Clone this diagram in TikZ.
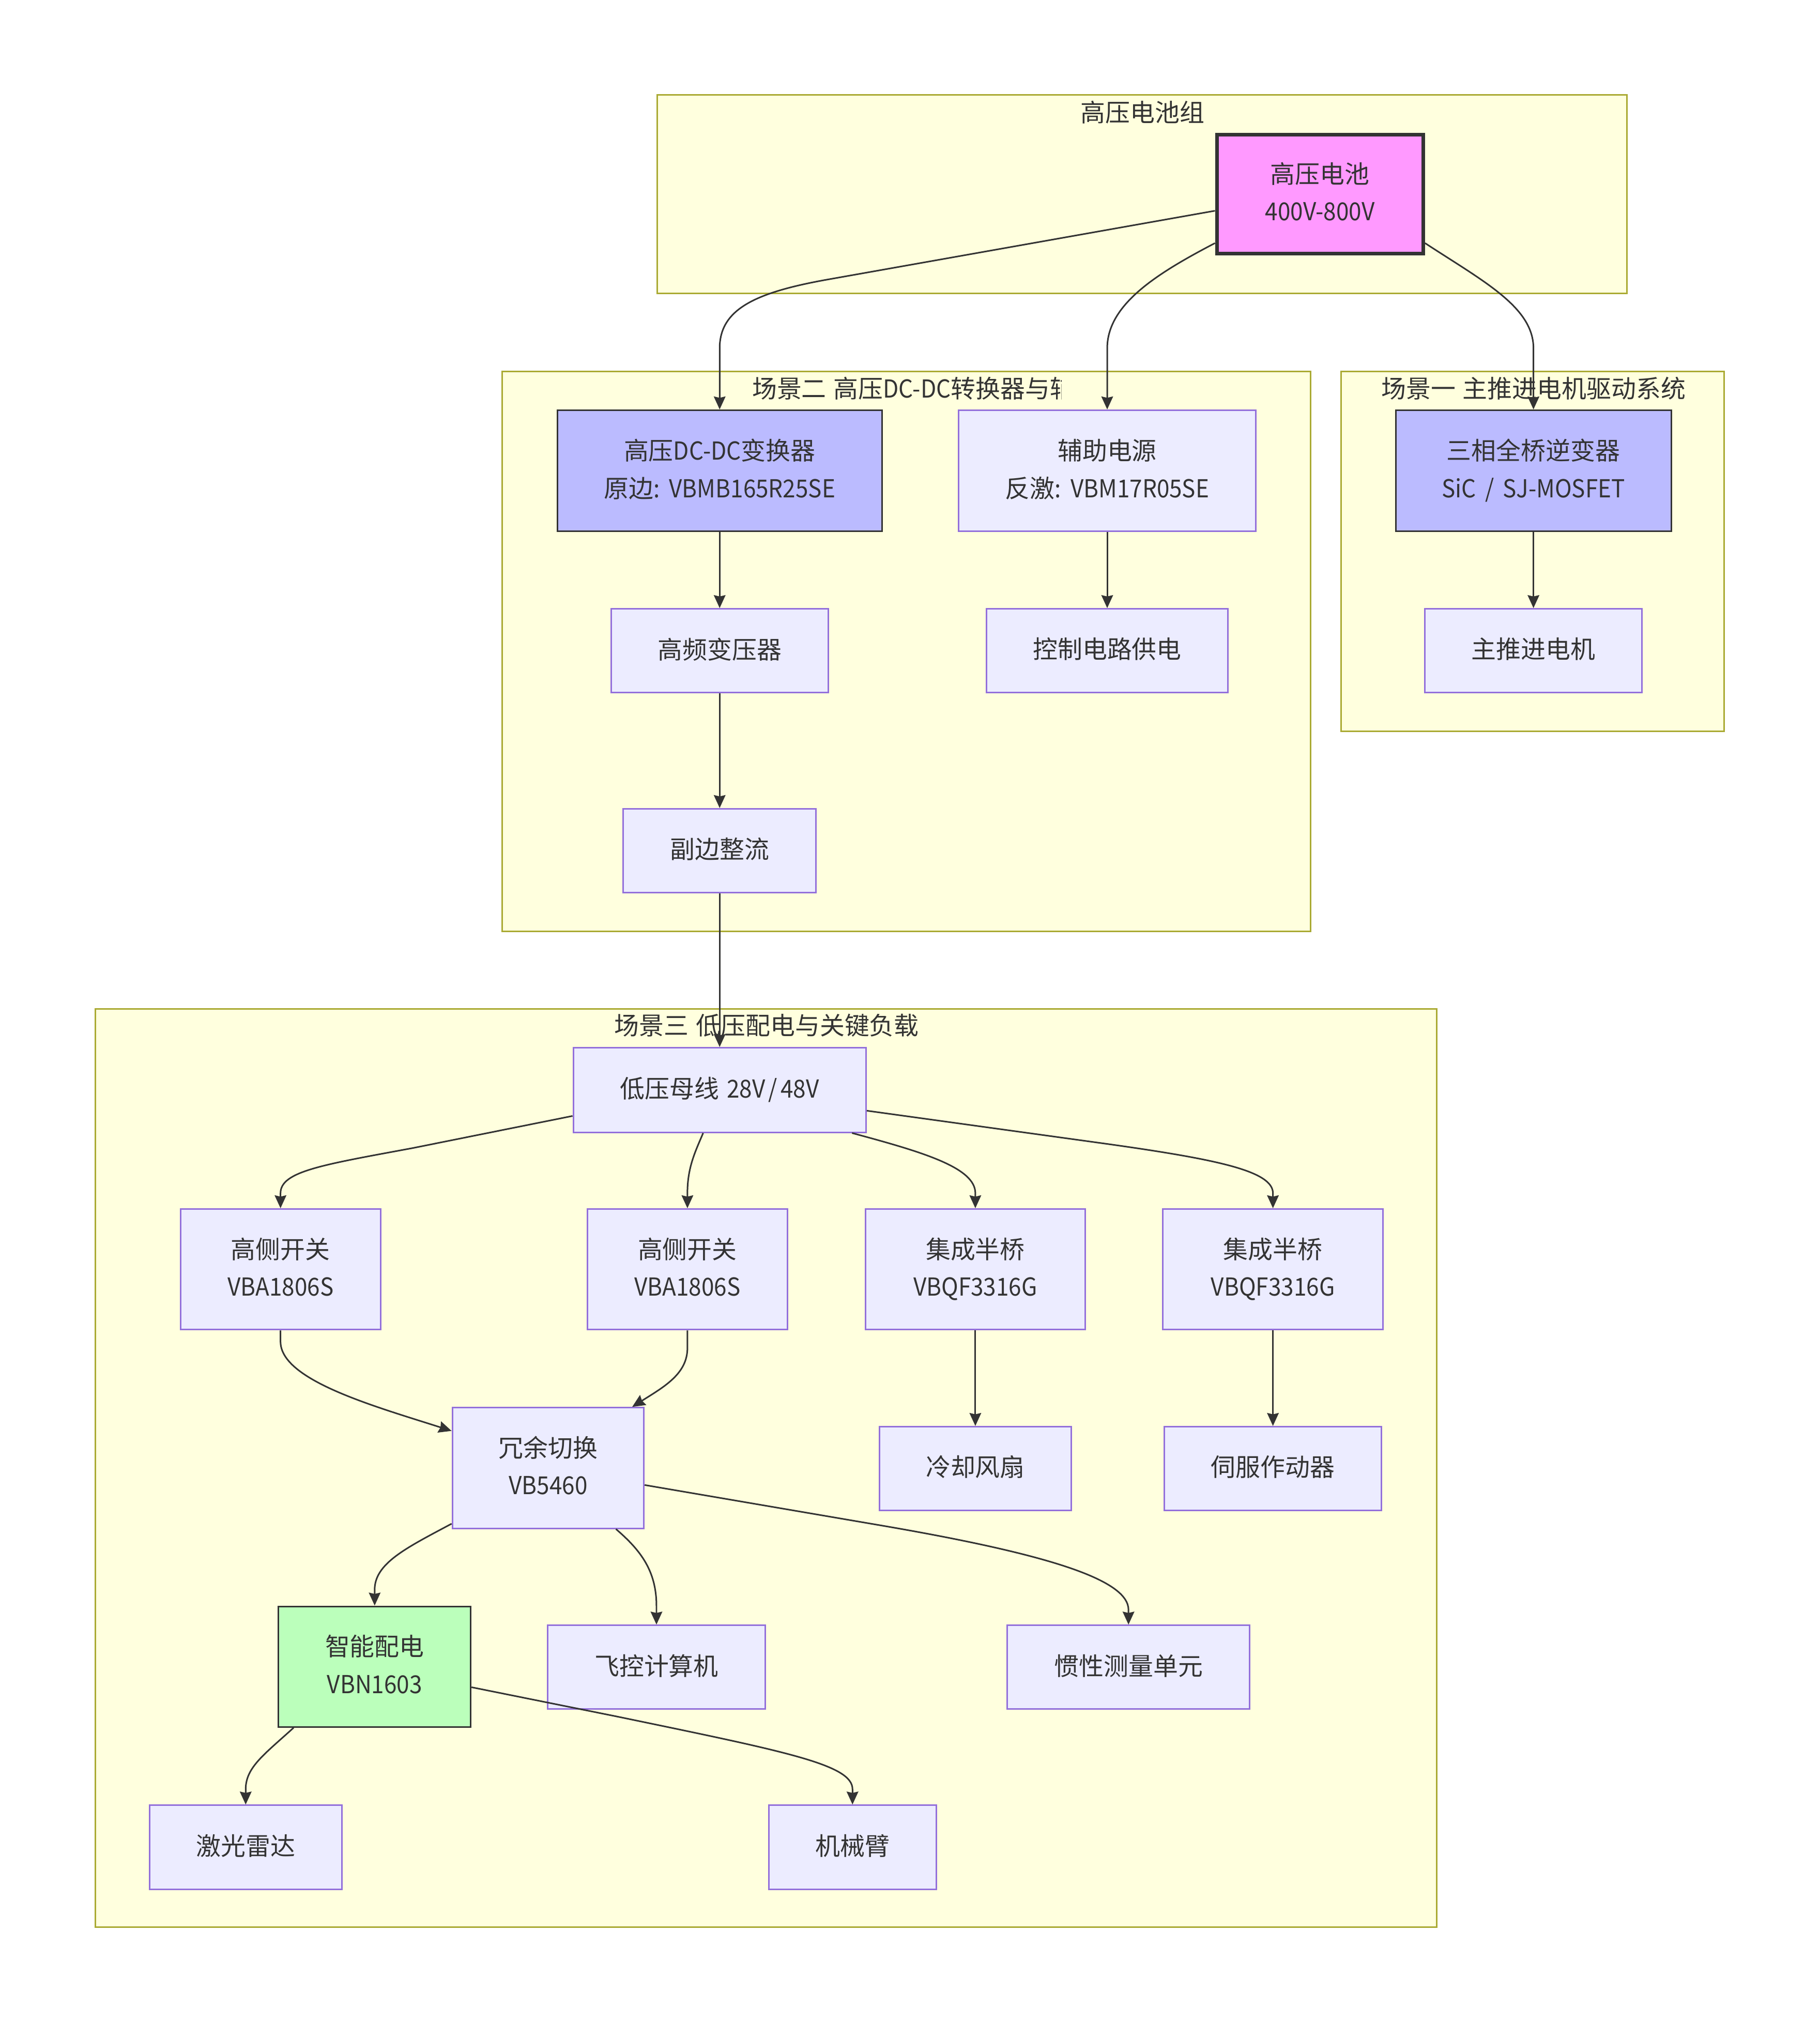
\documentclass[tikz,border=0pt]{standalone}
\usepackage{fontspec}
\setmainfont[FakeStretch=0.92,WordSpace=1.5]{Noto Sans CJK SC}
\newfontfamily\cjk[WordSpace=1.3]{Noto Sans CJK SC}
\newcommand{\cn}[1]{{\cjk\fontsize{19.2}{29}\selectfont #1}}
\usetikzlibrary{arrows.meta}
\definecolor{groupfill}{HTML}{FFFFDE}
\definecolor{groupline}{HTML}{AAAA33}
\definecolor{nodefill}{HTML}{ECECFF}
\definecolor{nodeline}{HTML}{9370DB}
\definecolor{ink}{HTML}{333333}
\definecolor{batfill}{HTML}{FF99FF}
\definecolor{powerfill}{HTML}{BBBBFF}
\definecolor{smartfill}{HTML}{BBFFBB}
\tikzset{
  group/.style={draw=groupline, fill=groupfill, line width=1.2pt},
  grouptitle/.style={text=ink, inner sep=0pt},
  box/.style={draw=nodeline, fill=nodefill, line width=1.2pt, text=ink, inner sep=0pt, align=center, text depth=4pt},
  darkbox/.style={box, draw=ink},
  edge/.style={draw=ink, line width=1.2pt, -{Stealth[length=10pt,width=9pt,inset=1pt]}},
}
\begin{document}
\begin{tikzpicture}[x=1pt, y=-1pt, font=\fontsize{19.2}{29}\selectfont]
  \useasboundingbox (0,0) rectangle (1410.8,1567.5);

%Groups
  \draw[group] (509.5,73.5) rectangle (1261.5,227.5);
  \draw[group] (389.5,288) rectangle (1016,722);
  \draw[group] (1040,288) rectangle (1337,567);
  \draw[group] (74,782) rectangle (1114,1494);

  \node[grouptitle] at (886,87) (t0) {\cn{高压电池组}};
  \node[grouptitle] at (1189,301) (t1) {\cn{场景一 主推进电机驱动系统}};
  \node[grouptitle] at (594.5,795) (t3) {\cn{场景三 低压配电与关键负载}};
  \begin{scope}
    \clip (389.5,288) rectangle (823,722);
    \node[grouptitle, anchor=west] at (583,301) (t2) {\cn{场景二 高压}DC-DC\cn{转换器与辅}};
  \end{scope}

%Boxes first so the edges can name them
  \path
    (1023.5,150.5) node[darkbox, line width=2.9pt, fill=batfill, minimum width=160, minimum height=92] (bat) {\cn{高压电池}\\400V-800V}
    (558,365) node[darkbox, fill=powerfill, minimum width=251.5, minimum height=94] (dc) {\cn{高压}DC-DC\cn{变换器}\\\cn{原边}: VBMB165R25SE}
    (858.5,365) node[box, minimum width=230.5, minimum height=94] (aux) {\cn{辅助电源}\\\cn{反激}: VBM17R05SE}
    (1189,365) node[darkbox, fill=powerfill, minimum width=213.5, minimum height=94] (inv) {\cn{三相全桥逆变器}\\SiC\ \kern1pt/\kern1pt\ SJ-MOSFET}
    (558,504.5) node[box, minimum width=168.5, minimum height=65] (hf) {\cn{高频变压器}}
    (858.5,504.5) node[box, minimum width=187.5, minimum height=65] (ctrl) {\cn{控制电路供电}}
    (1189,504.5) node[box, minimum width=168.5, minimum height=65] (motor) {\cn{主推进电机}}
    (558,659.5) node[box, minimum width=149.5, minimum height=65] (sec) {\cn{副边整流}}
    (558,845) node[box, minimum width=227, minimum height=65.5] (lv) {\cn{低压母线} 28V\kern2.5pt/\kern2.5pt48V}
    (217.5,984) node[box, minimum width=155, minimum height=93.5] (hsa) {\cn{高侧开关}\\VBA1806S}
    (533,984) node[box, minimum width=155, minimum height=93.5] (hsb) {\cn{高侧开关}\\VBA1806S}
    (756.25,984) node[box, minimum width=170.5, minimum height=93.5] (hba) {\cn{集成半桥}\\VBQF3316G}
    (987,984) node[box, minimum width=170.5, minimum height=93.5] (hbb) {\cn{集成半桥}\\VBQF3316G}
    (425,1138) node[box, minimum width=148.5, minimum height=93.5] (red) {\cn{冗余切换}\\VB5460}
    (756.25,1138.5) node[box, minimum width=149, minimum height=65] (fan) {\cn{冷却风扇}}
    (987,1138.5) node[box, minimum width=168.5, minimum height=65] (servo) {\cn{伺服作动器}}
    (290.5,1292) node[darkbox, fill=smartfill, minimum width=149, minimum height=93.5] (smart) {\cn{智能配电}\\VBN1603}
    (509,1292.5) node[box, minimum width=168.5, minimum height=65] (fc) {\cn{飞控计算机}}
    (875,1292.5) node[box, minimum width=188, minimum height=65] (imu) {\cn{惯性测量单元}}
    (190.5,1432) node[box, minimum width=149, minimum height=65] (lidar) {\cn{激光雷达}}
    (661,1432) node[box, minimum width=130, minimum height=65] (arm) {\cn{机械臂}};

%Edges
  \draw[edge] (bat.189.5) -- (640,217) .. controls (585,227) and (558,240) .. (558,270) -- (dc.north);
  \draw[edge] (bat.205) .. controls (897,212) and (858.5,236) .. (858.5,270) -- (aux.north);
  \draw[edge] (bat.335) .. controls (1150,218) and (1189,238) .. (1189,270) -- (inv.north);
  \draw[edge] (dc) -- (hf);
  \draw[edge] (hf) -- (sec);
  \draw[edge] (aux) -- (ctrl);
  \draw[edge] (inv) -- (motor);
  \draw[edge] (sec) -- (lv);

  \draw[edge] (lv.190.5) -- (320,890) .. controls (250,903) and (217.5,908) .. (217.5,925) -- (hsa.north);
  \draw[edge] (lv.249) .. controls (539,893) and (533,905) .. (533,925) -- (hsb.north);
  \draw[edge] (lv.342.4) .. controls (715,893) and (756.25,905) .. (756.25,925) -- (hba.north);
  \draw[edge] (lv.352) -- (860,887) .. controls (945,899) and (987,908) .. (987,925) -- (hbb.north);

  \draw[edge] (hsa.south) -- (217.5,1040) .. controls (217.5,1070) and (290,1090) .. (red.159.3);
  \draw[edge] (hsb.south) -- (533,1045) .. controls (533,1065) and (515,1075) .. (red.36);
  \draw[edge] (hba) -- (fan);
  \draw[edge] (hbb) -- (servo);

  \draw[edge] (red.210) .. controls (315,1200) and (290,1212) .. (290.5,1233) -- (smart.north);
  \draw[edge] (red.318) .. controls (497,1202) and (509,1218) .. (509,1245) -- (fc.north);
  \draw[edge] (red.350) -- (680,1182) .. controls (815,1205) and (875,1225) .. (875,1248) -- (imu.north);
  \draw[edge] (smart.217.6) .. controls (205,1360) and (190.5,1370) .. (190.5,1387) -- (lidar.north);
  \draw[edge] (smart.348.6) -- (480,1331) .. controls (610,1358) and (661,1368) .. (661,1387) -- (arm.north);

\end{tikzpicture}
\end{document}
